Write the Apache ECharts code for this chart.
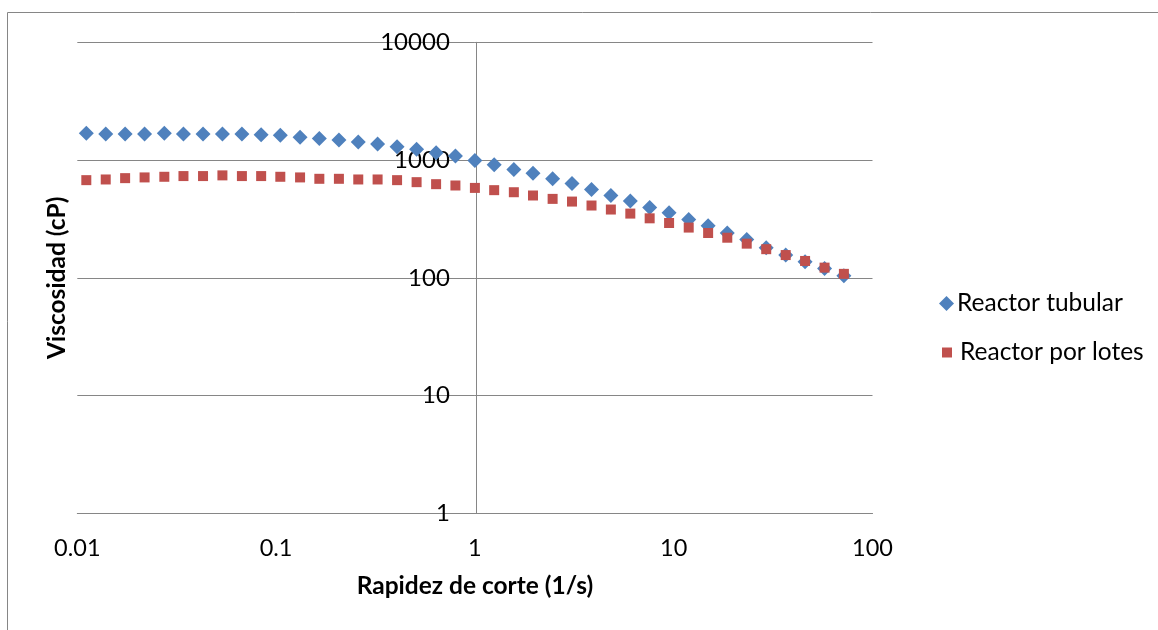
<!DOCTYPE html>
<html>
<head>
<meta charset="utf-8">
<script src="https://cdn.jsdelivr.net/npm/echarts@6/dist/echarts.min.js"></script>
<style>
html,body{margin:0;padding:0;background:#fff;}
#chart{width:1158px;height:630px;}
</style>
</head>
<body>
<div id="chart"></div>
<script>
// Shear rate (1/s)
var shearRate = [0.0111,0.0139,0.0174,0.0218,0.0274,0.0342,0.0429,0.0537,0.0673,0.0841,
                 0.105,0.132,0.165,0.207,0.259,0.324,0.406,0.509,0.638,0.798,
                 1.0,1.25,1.57,1.96,2.46,3.08,3.86,4.83,6.05,7.57,
                 9.48,11.9,14.9,18.6,23.3,29.2,36.6,45.8,57.4,71.8];
// Viscosity (cP) - Reactor tubular
var tubular = [1690,1667,1667,1667,1690,1667,1667,1667,1667,1644,
               1625,1563,1521,1481,1423,1369,1298,1233,1154,1082,
               990,912,833,771,694,633,562,500,450,395,
               356,312,277,240,211,180,156,137,120,104];
// Viscosity (cP) - Reactor por lotes
var lotes = [675,684,702,712,721,731,731,741,731,731,
             721,712,693,693,684,684,675,649,624,608,
             580,555,533,500,468,444,411,380,351,320,
             292,267,240,219,195,175,156,139,122,108];
var seriesNames = ['Reactor tubular','Reactor por lotes'];
var xTicks = [0.01,0.1,1,10,100];
var yTicks = [1,10,100,1000,10000];

var FONT = 'Lato';
var gridLeft = 77.3, gridRight = 872.5, gridTop = 42.3, gridBottom = 513.3;
var chart = echarts.init(document.getElementById('chart'));
function pairs(ys){ return shearRate.map(function(x,i){ return [x, ys[i]]; }); }
var option = {
  animation:false,
  backgroundColor:'#ffffff',
  grid:{left:gridLeft, top:gridTop, width:gridRight-gridLeft, height:gridBottom-gridTop, containLabel:false},
  xAxis:{
    type:'log', logBase:10, min:xTicks[0], max:xTicks[xTicks.length-1],
    axisLine:{show:true, onZero:false, lineStyle:{color:'#868686', width:1}},
    axisTick:{show:false},
    splitLine:{show:false},
    axisLabel:{color:'#000', fontFamily:FONT, fontSize:23.5, margin:23,
      formatter:function(v){ return String(v); }},
    name:'Rapidez de corte (1/s)', nameLocation:'middle', nameGap:60,
    nameTextStyle:{color:'#000', fontFamily:FONT, fontSize:24.5, fontWeight:'bold'}
  },
  yAxis:{
    type:'log', logBase:10, min:yTicks[0], max:yTicks[yTicks.length-1],
    offset:-(475.8-gridLeft),
    axisLine:{show:true, onZero:false, lineStyle:{color:'#868686', width:1}},
    axisTick:{show:false},
    splitLine:{show:true, lineStyle:{color:'#868686', width:1}},
    axisLabel:{color:'#000', fontFamily:FONT, fontSize:24, margin:26,
      formatter:function(v){ return String(v); }}
  },
  legend:[
    {data:[{name:seriesNames[0], icon:'diamond'}], orient:'vertical', left:934, top:286,
     itemWidth:15, itemHeight:15, itemGap:0,
     textStyle:{color:'#000', fontFamily:FONT, fontSize:24.5, padding:[0,0,0,-2]}},
    {data:[{name:seriesNames[1], icon:'rect'}], orient:'vertical', left:937, top:335,
     itemWidth:10, itemHeight:10, itemGap:0,
     textStyle:{color:'#000', fontFamily:FONT, fontSize:24.5, padding:[0,0,0,3]}}
  ],
  series:[
    {name:seriesNames[0], type:'scatter', symbol:'diamond', symbolSize:15,
     itemStyle:{color:'#4F81BD', opacity:1}, data:pairs(tubular)},
    {name:seriesNames[1], type:'scatter', symbol:'rect', symbolSize:10,
     itemStyle:{color:'#C0504D', opacity:1}, data:pairs(lotes)}
  ],
  graphic:[
    {type:'line', shape:{x1:7.5, y1:12.5, x2:1158, y2:12.5}, style:{stroke:'#868686', lineWidth:1}},
    {type:'line', shape:{x1:7.5, y1:12.5, x2:7.5, y2:630}, style:{stroke:'#868686', lineWidth:1}},
    {type:'text', x:57, y:(gridTop+gridBottom)/2, rotation:Math.PI/2,
     style:{text:'Viscosidad (cP)', fill:'#000', font:'bold 24.5px Lato', align:'center', verticalAlign:'middle'}}
  ]
};
chart.setOption(option);
</script>
</body>
</html>
